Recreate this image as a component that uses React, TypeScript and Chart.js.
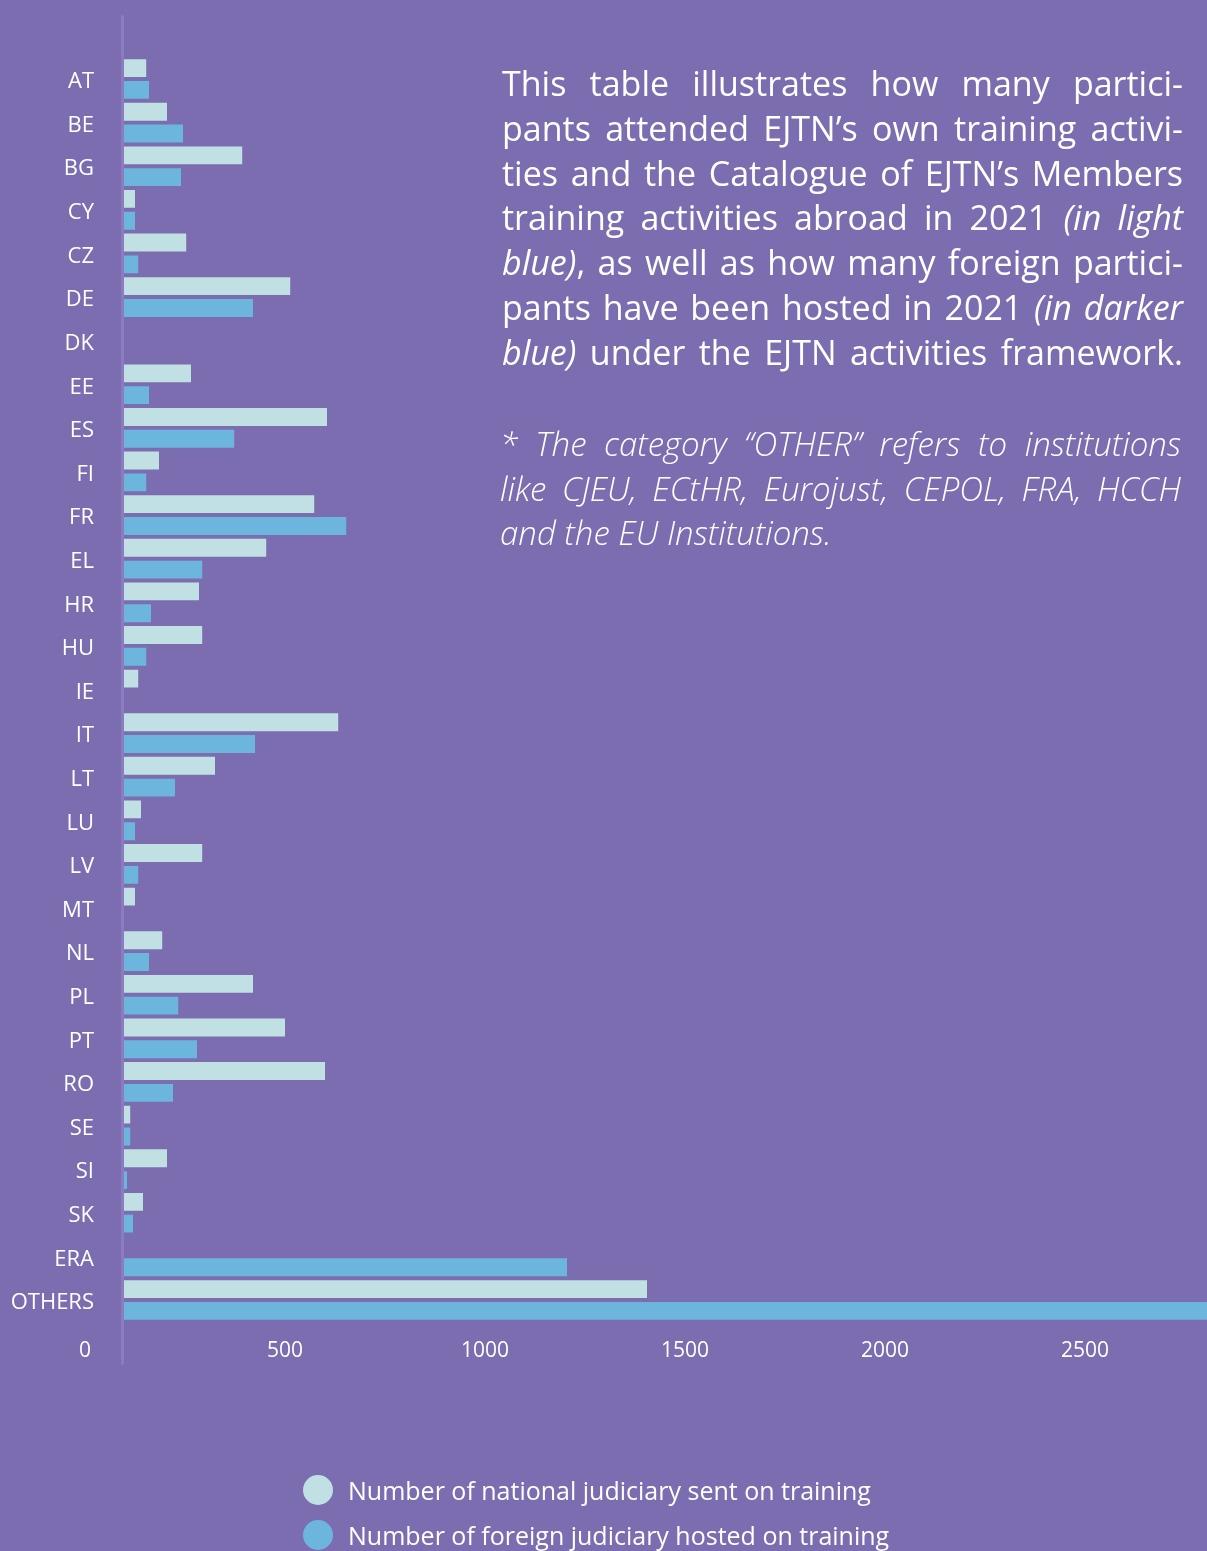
import React, { useEffect, useRef } from "react";
import { Chart, registerables } from "chart.js";

Chart.register(...registerables);

const categories = [
  "AT", "BE", "BG", "CY", "CZ", "DE", "DK", "EE", "ES", "FI", "FR", "EL", "HR", "HU", "IE",
  "IT", "LT", "LU", "LV", "MT", "NL", "PL", "PT", "RO", "SE", "SI", "SK", "ERA", "OTHERS",
];

const nationalSent = [
  153, 205, 393, 125, 253, 513, 0, 265, 605, 185, 573, 453, 285, 293, 133,
  633, 325, 140, 293, 125, 193, 420, 500, 600, 113, 205, 145, 0, 1405,
];

const foreignHosted = [
  160, 245, 240, 125, 133, 420, 0, 160, 373, 153, 653, 293, 165, 153, 0,
  425, 225, 125, 133, 0, 160, 233, 280, 220, 113, 105, 120, 1205, 2900,
];

const xTickValues = [0, 500, 1000, 1500, 2000, 2500];
const xMin = 97.5;
const xMax = 2805;

const seriesLabels = [
  "Number of national judiciary sent on training",
  "Number of foreign judiciary hosted on training",
];

const BG = "#7b6db0";
const LIGHT = "#c0e0e3";
const DARK = "#6cb6de";
const AXIS = "#8a7cbe";
const FONT = "'Open Sans', 'Noto Sans', sans-serif";

const axisLinePlugin = {
  id: "axisLine",
  beforeDatasetsDraw(chart: any) {
    const { ctx, chartArea } = chart;
    ctx.save();
    ctx.fillStyle = AXIS;
    ctx.fillRect(chartArea.left - 3, chartArea.top - 42, 3, chartArea.bottom - chartArea.top + 85);
    ctx.restore();
  },
};

function BarChart() {
  const ref = useRef<HTMLCanvasElement | null>(null);
  useEffect(() => {
    if (!ref.current) return;
    const chart = new Chart(ref.current, {
      type: "bar",
      data: {
        labels: categories,
        datasets: [
          {
            label: seriesLabels[0],
            data: nationalSent,
            backgroundColor: LIGHT,
            borderWidth: 0,
            categoryPercentage: 1.0,
            barPercentage: 0.82,
          },
          {
            label: seriesLabels[1],
            data: foreignHosted,
            backgroundColor: DARK,
            borderWidth: 0,
            categoryPercentage: 1.0,
            barPercentage: 0.82,
          },
        ],
      },
      options: {
        indexAxis: "y",
        animation: false,
        responsive: false,
        devicePixelRatio: 1,
        layout: { padding: { top: 57.2, bottom: 189.2, left: 0, right: 0 } },
        plugins: {
          legend: { display: false },
          tooltip: { enabled: false },
          title: { display: false },
        },
        scales: {
          x: {
            type: "linear",
            min: xMin,
            max: xMax,
            grid: { display: false, drawTicks: false },
            border: { display: false },
            afterBuildTicks: (scale: any) => {
              scale.ticks = xTickValues.map((v) => ({ value: v }));
            },
            afterFit: (scale: any) => {
              scale.height = 40;
            },
            ticks: {
              color: "#ffffff",
              font: { family: FONT, size: 21 },
              padding: 17,
              autoSkip: false,
              maxRotation: 0,
              callback: (v: any) => String(v),
            },
          },
          y: {
            type: "category",
            grid: { display: false, drawTicks: false },
            border: { display: false },
            afterFit: (scale: any) => {
              scale.width = 124;
            },
            ticks: {
              color: "#ffffff",
              font: { family: FONT, size: 22 },
              padding: 30,
              labelOffset: 3,
              autoSkip: false,
            },
          },
        },
      },
      plugins: [axisLinePlugin],
    });
    return () => chart.destroy();
  }, []);
  return <canvas ref={ref} width={1207} height={1551} style={{ display: "block", position: "absolute", left: 0, top: 0 }} />;
}

const lineStyle: React.CSSProperties = { textAlign: "justify", textAlignLast: "justify" as any };

export default function App() {
  return (
    <div
      style={{
        position: "absolute",
        left: 0,
        top: 0,
        width: 1207,
        height: 1551,
        background: BG,
        overflow: "hidden",
      }}
    >
      <BarChart />
      <div
        style={{
          position: "absolute",
          left: 502,
          top: 61,
          width: 681,
          fontFamily: FONT,
          fontSize: 34,
          lineHeight: "44.8px",
          color: "#ffffff",
        }}
      >
        <div style={lineStyle}>This table illustrates how many partici-</div>
        <div style={lineStyle}>pants attended EJTN’s own training activi-</div>
        <div style={lineStyle}>ties and the Catalogue of EJTN’s Members</div>
        <div style={lineStyle}>
          training activities abroad in 2021 <i>(in light</i>
        </div>
        <div style={lineStyle}>
          <i>blue)</i>, as well as how many foreign partici-
        </div>
        <div style={lineStyle}>
          pants have been hosted in 2021 <i>(in darker</i>
        </div>
        <div style={lineStyle}>
          <i>blue)</i> under the EJTN activities framework.
        </div>
      </div>
      <div
        style={{
          position: "absolute",
          left: 500,
          top: 422,
          width: 681,
          fontFamily: FONT,
          fontSize: 33,
          fontWeight: 300,
          fontStyle: "italic",
          lineHeight: "44.6px",
          color: "#ffffff",
        }}
      >
        <div style={lineStyle}>* The category “OTHER” refers to institutions</div>
        <div style={lineStyle}>like CJEU, ECtHR, Eurojust, CEPOL, FRA, HCCH</div>
        <div>and the EU Institutions.</div>
      </div>
      <div
        style={{
          position: "absolute",
          left: 303,
          top: 1467,
          fontFamily: FONT,
          fontSize: 25,
          color: "#ffffff",
        }}
      >
        {seriesLabels.map((label, i) => (
          <div key={label} style={{ display: "flex", alignItems: "center", height: 45 }}>
            <span
              style={{
                display: "inline-block",
                width: 30,
                height: 30,
                borderRadius: "50%",
                background: i === 0 ? LIGHT : DARK,
                marginRight: 15,
                flex: "none",
              }}
            />
            <span style={{ whiteSpace: "nowrap" }}>{label}</span>
          </div>
        ))}
      </div>
    </div>
  );
}
